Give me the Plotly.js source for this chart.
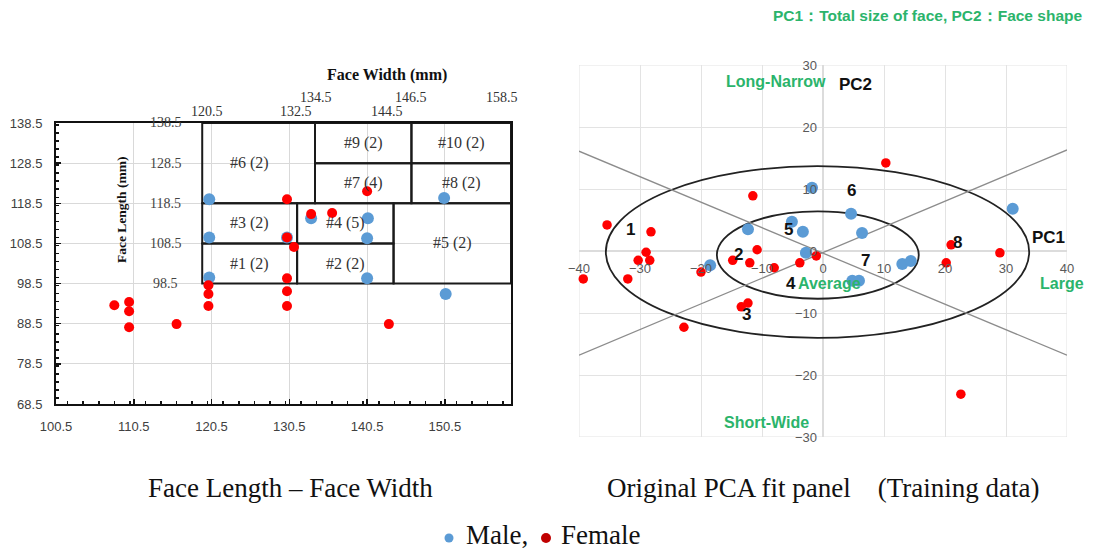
<!DOCTYPE html>
<html><head><meta charset="utf-8">
<script src="https://cdn.plot.ly/plotly-3.0.1.min.js"></script>
<style>html,body{margin:0;padding:0;background:#fff}#chart{width:1094px;height:553px}</style>
</head><body><div id="chart"></div>
<script>
// ---------- Left panel: Face Length vs Face Width ----------
const maleWidth    = [120.2, 120.2, 120.2, 130.2, 133.3, 140.6, 140.5, 140.5, 150.4, 150.6];
const maleLength   = [119.5, 110.0, 100.0, 110.0, 114.8, 114.8, 109.8, 99.8, 119.8, 95.9];
const femaleWidth  = [130.2, 130.2, 133.3, 136.0, 140.5, 131.1, 130.2, 130.2, 130.2, 120.1, 120.1, 120.1, 108.0, 109.9, 109.9, 109.9, 116.0, 143.3];
const femaleLength = [119.5, 110.0, 115.8, 116.1, 121.5, 107.6, 99.8, 96.6, 92.9, 98.1, 95.9, 92.9, 93.1, 93.9, 91.6, 87.6, 88.4, 88.4];

// box grid boundaries (face width / face length)
const widthBounds  = [119.3, 131.5, 133.8, 143.9, 146.2, 159];
const lengthBounds = [98.5, 108.5, 118.5, 128.5, 138.5];
const boxNames = ['#1 (2)', '#2 (2)', '#3 (2)', '#4 (5)', '#5 (2)', '#6 (2)', '#7 (4)', '#8 (2)', '#9 (2)', '#10 (2)'];
// [x0 idx, x1 idx, y0 idx, y1 idx]
const boxIdx = [[0,1,0,1],[1,3,0,1],[0,1,1,2],[1,3,1,2],[3,5,0,2],[0,2,2,4],[2,4,2,3],[4,5,2,3],[2,4,3,4],[4,5,3,4]];
const innerLengthLabels = ['138.5', '128.5', '118.5', '108.5', '98.5'];
const topLabelsUpper = ['134.5', '146.5', '158.5'];
const topLabelsLower = ['120.5', '132.5', '144.5'];

// ---------- Right panel: PCA ----------
const malePC1 = [-12.3, -1.8, -5.1, -3.3, 4.6, 6.4, 31.1, -18.5, -2.8, 13.0, 14.4, 4.8, 5.9];
const malePC2 = [3.5, 10.2, 4.7, 3.1, 6.0, 2.9, 6.8, -2.3, -0.3, -2.1, -1.6, -4.8, -4.8];
const femalePC1 = [-35.4, -28.2, -11.5, 10.3, -29.0, -30.3, -28.4, -39.3, -32.0, -20.0, -14.8, -12.0, -10.8, -8.0, -1.1, -3.8, -13.4, -12.3, -22.8, 21.0, 20.2, 29.0, 22.6];
const femalePC2 = [4.2, 3.1, 8.9, 14.2, -0.2, -1.5, -1.5, -4.5, -4.5, -3.4, -1.5, -1.9, 0.2, -2.7, -0.8, -1.9, -9.0, -8.4, -12.3, 1.0, -1.9, -0.3, -23.1];
const lineA_x = [-40, 40], lineA_y = [16.1, -16.8];
const lineB_x = [-40, 40], lineB_y = [-16.8, 16.3];
const outerEllipse = {x: [-35.6, 33.8], y: [-14.0, 13.7]};
const innerEllipse = {x: [-17.4, 15.7], y: [-7.7, 6.4]};
const clusterLabels = ['1','2','3','4','5','6','7','8'];
const clusterPC1 = [-31.6, -13.8, -12.5, -5.2, -5.6, 4.6, 7.0, 22.0];
const clusterPC2 = [3.5, -0.5, -10.2, -5.2, 3.5, 9.7, -1.6, 1.3];

const W = 1094, H = 553;
const fx = p => p / W;
const fy = p => 1 - p / H;

const BLUE = '#5b9bd5', RED = '#ff0000', GREEN = '#2bb46b';
const SERIF = 'Liberation Serif, Times New Roman, serif';
const SANS = 'Liberation Sans, Arial, sans-serif';

const traces = [
  {x: maleWidth, y: maleLength, type: 'scatter', mode: 'markers', xaxis: 'x', yaxis: 'y',
   marker: {color: BLUE, size: 12}, cliponaxis: false},
  {x: femaleWidth, y: femaleLength, type: 'scatter', mode: 'markers', xaxis: 'x', yaxis: 'y',
   marker: {color: RED, size: 10}, cliponaxis: false},
  {x: lineA_x, y: lineA_y, type: 'scatter', mode: 'lines', xaxis: 'x2', yaxis: 'y2',
   line: {color: '#8c8c8c', width: 1.3}},
  {x: lineB_x, y: lineB_y, type: 'scatter', mode: 'lines', xaxis: 'x2', yaxis: 'y2',
   line: {color: '#8c8c8c', width: 1.3}},
  {x: malePC1, y: malePC2, type: 'scatter', mode: 'markers', xaxis: 'x2', yaxis: 'y2',
   marker: {color: BLUE, size: 12}, cliponaxis: false},
  {x: femalePC1, y: femalePC2, type: 'scatter', mode: 'markers', xaxis: 'x2', yaxis: 'y2',
   marker: {color: RED, size: 9.5}, cliponaxis: false}
];

const shapes = [];
const annotations = [];
// paper-pixel annotation helper
const pAnn = (px, py, text, font, extra) => annotations.push(Object.assign({xref: 'paper', yref: 'paper',
  x: fx(px), y: fy(py), text, showarrow: false, xanchor: 'center', yanchor: 'middle', font}, extra || {}));

boxIdx.forEach((b, i) => {
  const x0 = widthBounds[b[0]], x1 = widthBounds[b[1]];
  const y0 = lengthBounds[b[2]], y1 = lengthBounds[b[3]];
  shapes.push({type: 'rect', xref: 'x', yref: 'y', x0, x1, y0, y1,
    line: {color: '#1a1a1a', width: 2}, layer: 'between'});
  let cx = (x0 + x1) / 2;
  if (boxNames[i] === '#6 (2)') cx = (widthBounds[0] + widthBounds[1]) / 2;
  annotations.push({xref: 'x', yref: 'y', x: cx, y: (y0 + y1) / 2, text: boxNames[i],
    xanchor: 'center', yanchor: 'middle',
    showarrow: false, font: {family: SERIF, size: 16, color: '#333'}});
});

innerLengthLabels.forEach(t => {
  annotations.push({xref: 'x', yref: 'y', x: 114.6, y: parseFloat(t), text: t, showarrow: false,
    xanchor: 'center', yanchor: 'middle',
    font: {family: SERIF, size: 14, color: '#444'}});
});
const upperPx = [316, 411, 502], lowerPx = [207, 296, 387];
const topFont = {family: SERIF, size: 14, color: '#333'};
topLabelsUpper.forEach((t, i) => pAnn(upperPx[i], 97, t, topFont));
topLabelsLower.forEach((t, i) => pAnn(lowerPx[i], 111, t, topFont));

pAnn(387, 75, '<b>Face Width (mm)</b>', {family: SERIF, size: 16, color: '#111'});
pAnn(121, 210, '<b>Face Length (mm)</b>', {family: SERIF, size: 13.5, color: '#111'}, {textangle: -90});

// Right panel labels
clusterLabels.forEach((t, i) => annotations.push({xref: 'x2', yref: 'y2', x: clusterPC1[i], y: clusterPC2[i],
  xanchor: 'center', yanchor: 'middle',
  text: '<b>' + t + '</b>', showarrow: false, font: {family: SANS, size: 17, color: '#111'}}));
const rlab = (x, y, t, color, size) => annotations.push({xref: 'x2', yref: 'y2', x, y, text: '<b>' + t + '</b>',
  xanchor: 'center', yanchor: 'middle', showarrow: false, font: {family: SANS, size, color}});
rlab(37.0, 2.1, 'PC1', '#111', 17);
rlab(5.4, 26.9, 'PC2', '#111', 17);
rlab(-7.7, 27.4, 'Long-Narrow', GREEN, 16);
rlab(-9.2, -27.6, 'Short-Wide', GREEN, 16);
rlab(-40.8, -5.3, 'Small', GREEN, 16);
rlab(39.2, -5.3, 'Large', GREEN, 16);
rlab(1.1, -5.2, 'Average', GREEN, 16);

pAnn(1084, 16, '<b>PC1：Total size of face, PC2：Face shape</b>', {family: SANS, size: 15.5, color: GREEN},
  {xanchor: 'right'});

// captions
const capFont = {family: SERIF, size: 27, color: '#111'};
pAnn(290, 488, 'Face Length – Face Width', capFont);
pAnn(823, 488, 'Original PCA fit panel \u00a0\u00a0\u00a0(Training data)', capFont);
pAnn(464, 535, 'Male,', capFont, {xanchor: 'left'});
pAnn(559, 535, 'Female', capFont, {xanchor: 'left'});
shapes.push({type: 'circle', xref: 'paper', yref: 'paper', x0: fx(444.5), x1: fx(453.5), y0: fy(542.5), y1: fy(533.5),
  fillcolor: BLUE, line: {width: 0}});
shapes.push({type: 'circle', xref: 'paper', yref: 'paper', x0: fx(541), x1: fx(551), y0: fy(543), y1: fy(533),
  fillcolor: '#c00000', line: {width: 0}});

// light frame of the PCA grid (edge gridlines)
shapes.push({type: 'rect', xref: 'x2', yref: 'y2', x0: -40, x1: 40, y0: -30, y1: 30,
  line: {color: '#e3e3e3', width: 1}, layer: 'below'});
// ellipses
[outerEllipse, innerEllipse].forEach(e => shapes.push({type: 'circle', xref: 'x2', yref: 'y2',
  x0: e.x[0], x1: e.x[1], y0: e.y[0], y1: e.y[1], line: {color: '#222', width: 1.8}, layer: 'between'}));

const tickFontL = {family: SANS, size: 13, color: '#404040'};
const tickFontR = {family: SANS, size: 13, color: '#595959'};

const layout = {
  width: W, height: H, margin: {l: 0, r: 0, t: 0, b: 0},
  paper_bgcolor: '#fff', plot_bgcolor: 'rgba(0,0,0,0)', showlegend: false,
  xaxis: {domain: [fx(56), fx(511)], range: [100.5, 159], tick0: 100.5, dtick: 10,
    showgrid: true, gridcolor: '#d9d9d9', gridwidth: 1, zeroline: false,
    showline: true, linecolor: '#111', linewidth: 2, mirror: true,
    ticks: 'inside', ticklen: 5, tickcolor: '#111', tickwidth: 1.5,
    minor: {dtick: 2, ticks: 'inside', ticklen: 3, tickcolor: '#111', showgrid: false},
    tickfont: tickFontL, ticklabelstandoff: 9, anchor: 'y'},
  yaxis: {domain: [fy(404), fy(123)], range: [68.5, 138.5], tick0: 68.5, dtick: 10,
    showgrid: true, gridcolor: '#d9d9d9', gridwidth: 1, zeroline: false,
    showline: true, linecolor: '#111', linewidth: 2, mirror: true,
    ticks: 'inside', ticklen: 5, tickcolor: '#111', tickwidth: 1.5,
    minor: {dtick: 2, ticks: 'inside', ticklen: 3, tickcolor: '#111', showgrid: false},
    tickfont: tickFontL, ticklabelstandoff: 9, anchor: 'x'},
  xaxis2: {domain: [fx(579), fx(1067)], range: [-40, 40], dtick: 10, tick0: 0,
    showgrid: true, gridcolor: '#e3e3e3', zeroline: true, zerolinecolor: '#dcdcdc', zerolinewidth: 1.5,
    showline: false, ticks: '', tickfont: tickFontR, ticklabelstandoff: 8,
    anchor: 'free', position: fy(251)},
  yaxis2: {domain: [fy(437), fy(65)], range: [-30, 30], dtick: 10, tick0: 0,
    showgrid: true, gridcolor: '#e3e3e3', zeroline: true, zerolinecolor: '#dcdcdc', zerolinewidth: 1.5,
    showline: false, ticks: '', tickfont: tickFontR, ticklabelstandoff: 6,
    anchor: 'free', position: fx(823)},
  shapes, annotations
};

Plotly.newPlot('chart', traces, layout, {displayModeBar: false, staticPlot: true});
</script></body></html>
